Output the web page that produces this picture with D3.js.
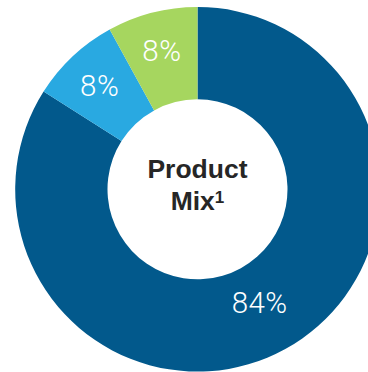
<!DOCTYPE html>
<html>
<head>
<meta charset="utf-8">
<script src="https://cdn.jsdelivr.net/npm/d3@7"></script>
<style>
  html, body { margin: 0; padding: 0; background: #fff; overflow: hidden; }
  svg { display: block; }
</style>
</head>
<body>
<svg id="chart" width="368" height="372"></svg>
<script>
const categories = ["Segment A", "Segment B", "Segment C"];
const values = [84, 8, 8];
const labels = ["84%", "8%", "8%"];
const colors = ["#02598C", "#29A9E1", "#A6D65F"];

const svg = d3.select("#chart");
const cx = 197.5, cy = 189.3;
const outerR = 182.3, innerR = 90;

const g = svg.append("g").attr("transform", `translate(${cx},${cy})`);

const pie = d3.pie().sort(null).value(d => d.value);
const data = categories.map((c, i) => ({ cat: c, value: values[i], label: labels[i], color: colors[i] }));
const arcs = pie(data);

const arc = d3.arc().innerRadius(innerR).outerRadius(outerR);

g.selectAll("path.slice")
  .data(arcs)
  .join("path")
  .attr("class", "slice")
  .attr("d", arc)
  .attr("fill", d => d.data.color);

const labelArcSmall = d3.arc().innerRadius(143).outerRadius(143);
const labelArcLarge = d3.arc().innerRadius(129).outerRadius(129);

g.selectAll("text.pct")
  .data(arcs)
  .join("text")
  .attr("class", "pct")
  .attr("transform", d => {
    const c = (d.data.value > 50 ? labelArcLarge : labelArcSmall).centroid(d);
    return `translate(${c[0]},${c[1]})`;
  })
  .attr("text-anchor", "middle")
  .attr("dy", "0.36em")
  .attr("fill", "#ffffff")
  .style("font-family", "Roboto, 'Liberation Sans', Arial, sans-serif")
  .style("font-weight", 300)
  .style("font-size", "29.5px")
  .style("letter-spacing", "0.5px")
  .text(d => d.data.label);

const center = g.append("text")
  .attr("text-anchor", "middle")
  .attr("fill", "#262626")
  .style("font-family", "'Liberation Sans', Arial, sans-serif")
  .style("font-weight", "bold")
  .style("font-size", "26.5px");

center.append("tspan").attr("x", 0).attr("y", 178 - cy).text("Product");
const line2 = center.append("tspan").attr("x", 0).attr("y", 210 - cy);
line2.append("tspan").text("Mix");
line2.append("tspan").attr("dy", -7).style("font-size", "17px").text("1");
</script>
</body>
</html>
